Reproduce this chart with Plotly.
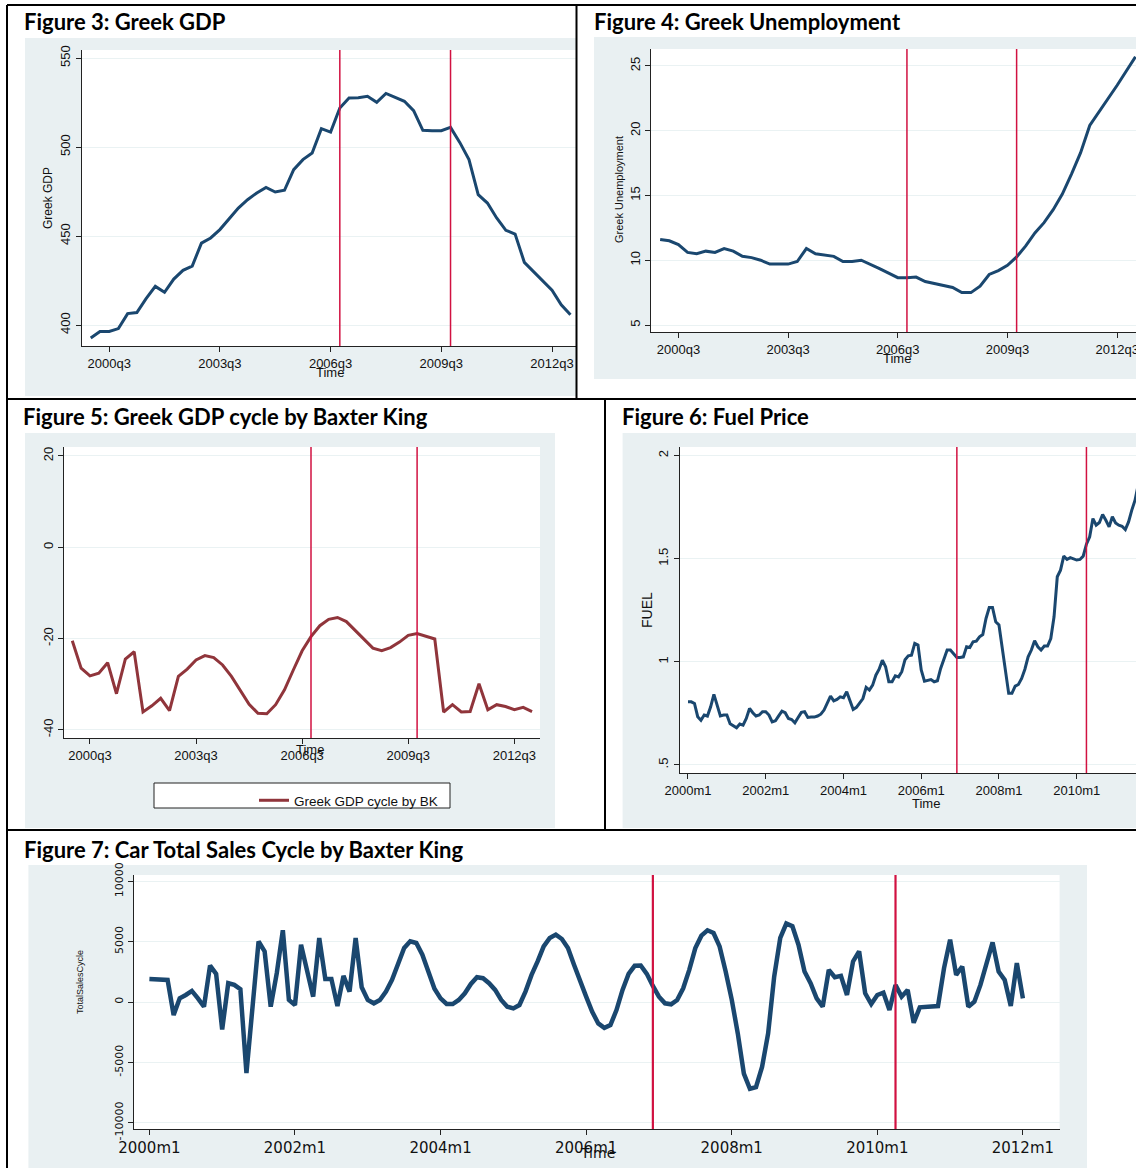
import plotly.graph_objects as go

# ---------------- data ----------------
quarter_ticks = [2, 14, 26, 38, 50]
quarter_ticklabels = ["2000q3", "2003q3", "2006q3", "2009q3", "2012q3"]
month_ticks = [0, 24, 48, 72, 96, 120, 144]
month_ticklabels = ["2000m1", "2002m1", "2004m1", "2006m1", "2008m1", "2010m1", "2012m1"]

events_q = [27, 39]      # 2006q4, 2009q4
events_m = [83, 123]     # 2006m12, 2010m4

gdp = [392.7, 396.3, 396.4, 398.0, 406.4, 407.0, 414.8, 421.7, 418.4, 425.8,
       430.7, 433.1, 446.0, 448.9, 453.6, 459.6, 465.7, 470.4, 474.2, 477.3,
       474.7, 475.7, 487.3, 492.9, 496.6, 510.3, 508.4, 521.9, 527.5, 527.7,
       528.5, 525.1, 530.1, 527.9, 525.7, 520.4, 509.4, 509.2, 509.2, 511.0,
       502.6, 492.9, 473.2, 468.5, 460.1, 453.2, 451.1, 435.2, 430.1, 424.5,
       419.5, 411.4, 405.8]

unemp = [11.6, 11.5, 11.2, 10.6, 10.5, 10.7, 10.6, 10.9, 10.7, 10.3,
         10.2, 10.0, 9.7, 9.7, 9.7, 9.9, 10.9, 10.5, 10.4, 10.3,
         9.9, 9.9, 10.0, 9.7, 9.35, 9.0, 8.65, 8.65, 8.7, 8.35,
         8.2, 8.05, 7.9, 7.5, 7.5, 8.0, 8.9, 9.2, 9.6, 10.25,
         11.1, 12.1, 12.9, 13.9, 15.1, 16.65, 18.3, 20.4, 21.4, 22.45,
         23.5, 24.6, 25.7]

bk_cycle = [-20.5, -26.5, -28.2, -27.6, -25.3, -32.1, -24.5, -22.9, -36.1, -34.75,
            -33.1, -35.8, -28.3, -26.7, -24.7, -23.75, -24.2, -25.8, -28.3, -31.5,
            -34.4, -36.4, -36.5, -34.5, -31.25, -26.9, -22.7, -19.6, -17.2, -15.8,
            -15.4, -16.3, -18.3, -20.2, -22.1, -22.65, -22.0, -20.8, -19.3, -18.9,
            -19.45, -20.1, -36.1, -34.5, -36.1, -36.0, -29.9, -35.6, -34.5, -34.9,
            -35.6, -35.1, -36.0]

fuel = [0.806, 0.806, 0.798, 0.734, 0.717, 0.742, 0.737, 0.782, 0.842, 0.790,
        0.738, 0.742, 0.742, 0.700, 0.688, 0.680, 0.698, 0.693, 0.725, 0.774,
        0.753, 0.737, 0.742, 0.758, 0.758, 0.742, 0.709, 0.714, 0.738, 0.761,
        0.753, 0.725, 0.720, 0.704, 0.730, 0.755, 0.758, 0.730, 0.732, 0.732,
        0.737, 0.746, 0.766, 0.798, 0.834, 0.811, 0.818, 0.830, 0.826, 0.855,
        0.814, 0.769, 0.779, 0.803, 0.822, 0.876, 0.863, 0.887, 0.935, 0.964,
        1.008, 0.976, 0.903, 0.903, 0.932, 0.927, 0.952, 1.010, 1.029, 1.032,
        1.089, 1.081, 0.960, 0.906, 0.911, 0.914, 0.903, 0.908, 0.968, 1.016,
        1.057, 1.057, 1.040, 1.021, 1.021, 1.024, 1.073, 1.069, 1.097, 1.100,
        1.121, 1.132, 1.210, 1.263, 1.263, 1.194, 1.178, 1.073, 0.960, 0.847,
        0.847, 0.882, 0.890, 0.919, 0.964, 1.024, 1.057, 1.102, 1.073, 1.057,
        1.076, 1.076, 1.113, 1.218, 1.412, 1.444, 1.512, 1.496, 1.505, 1.499,
        1.493, 1.496, 1.512, 1.570, 1.606, 1.694, 1.662, 1.675, 1.714, 1.686,
        1.654, 1.703, 1.673, 1.662, 1.657, 1.641, 1.678, 1.735, 1.783, 1.860]

car_cycle = [1917, 1917, 1917, 1833, -1083, 306, 583, 917, 306, -389,
             3028, 2333, -2278, 1556, 1417, 1056, -5889, -300, 5028, 4194,
             -389, 2389, 5944, 167, -250, 4750, 2528, 444, 5306, 1917,
             1917, -333, 2167, 861, 5306, 1222, 167, -111, 167, 861,
             1833, 3222, 4472, 5028, 4889, 3917, 2500, 1100, 300, -167,
             -167, 167, 722, 1500, 2056, 1972, 1556, 1000, 167, -389,
             -528, -250, 861, 2250, 3361, 4611, 5306, 5583, 5222, 4472,
             3083, 1694, 444, -806, -1778, -2139, -1917, -667, 1000, 2333,
             3000, 3028, 2333, 1333, 444, -111, -194, 167, 1139, 2667,
             4472, 5500, 5944, 5722, 4611, 2528, 200, -2611, -5944, -7194,
             -7056, -5389, -2611, 2111, 5306, 6500, 6278, 4750, 2528, 1556,
             306, -389, 2667, 2056, 2167, 583, 3361, 4194, 722, -167,
             583, 778, -667, 1417, 444, 1000, -1722, -444, -389, -389,
             -333, 2806, 5167, 2250, 2944, -389, 28, 1417, 3083, 4944,
             2528, 1833, -333, 3222, 306]

# ---------------- layout helpers ----------------
W, H = 1136, 1168
def fx(px):
    return px / W
def fy(py):
    return 1 - py / H

NAVY = "#1a476f"
MAROON = "#90353b"
RED = "#d11141"
PANEL_BG = "#e9f0f2"
GRID = "#eaf2f3"
TICKFONT = dict(family="Liberation Sans, Arial", size=13, color="#111")

fig = go.Figure()

panels = {
    1: dict(plot=(81.5, 50, 576, 346), bg=(25, 38, 576, 396)),
    2: dict(plot=(651, 49, 1136, 332), bg=(594, 37, 1136, 379)),
    3: dict(plot=(63.7, 447, 540, 738), bg=(25, 433, 555, 828)),
    4: dict(plot=(679.5, 447, 1136, 773), bg=(622.6, 433, 1136, 828)),
    5: dict(plot=(133.8, 875, 1059.6, 1129), bg=(28.4, 865, 1087, 1168)),
}

shapes = []
for k, p in panels.items():
    x0, y0, x1, y1 = p["bg"]
    shapes.append(dict(type="rect", xref="paper", yref="paper", x0=fx(x0), x1=fx(x1),
                       y0=fy(y1), y1=fy(y0), fillcolor=PANEL_BG, line=dict(width=0), layer="below"))
    x0, y0, x1, y1 = p["plot"]
    shapes.append(dict(type="rect", xref="paper", yref="paper", x0=fx(x0), x1=fx(x1),
                       y0=fy(y1), y1=fy(y0), fillcolor="white", line=dict(width=0), layer="below"))

# legend box for figure 5
shapes.append(dict(type="rect", xref="paper", yref="paper", x0=fx(154), x1=fx(450), y0=fy(808), y1=fy(783),
                   fillcolor="white", line=dict(color="#222", width=1), layer="below"))

# traces
fig.add_trace(go.Scatter(x=list(range(len(gdp))), y=gdp, mode="lines", line=dict(color=NAVY, width=3),
                         xaxis="x", yaxis="y", showlegend=False))
fig.add_trace(go.Scatter(x=list(range(len(unemp))), y=unemp, mode="lines", line=dict(color=NAVY, width=3),
                         xaxis="x2", yaxis="y2", showlegend=False))
fig.add_trace(go.Scatter(x=list(range(len(bk_cycle))), y=bk_cycle, mode="lines",
                         line=dict(color=MAROON, width=3), name="Greek GDP cycle by BK",
                         xaxis="x3", yaxis="y3", showlegend=True))
fig.add_trace(go.Scatter(x=list(range(len(fuel))), y=fuel, mode="lines", line=dict(color=NAVY, width=3),
                         xaxis="x4", yaxis="y4", showlegend=False))
fig.add_trace(go.Scatter(x=list(range(len(car_cycle))), y=car_cycle, mode="lines", line=dict(color=NAVY, width=4.5),
                         xaxis="x5", yaxis="y5", showlegend=False))

# red event lines
for k, ev, w in [(1, events_q, 1.5), (2, events_q, 1.5), (3, events_q, 1.5), (4, events_m, 1.5), (5, events_m, 2.2)]:
    xr = "x" if k == 1 else f"x{k}"
    yr = "y domain" if k == 1 else f"y{k} domain"
    for e in ev:
        shapes.append(dict(type="line", xref=xr, yref=yr, x0=e, x1=e, y0=0, y1=1,
                           line=dict(color=RED, width=w), layer="above"))

# panel borders
border = dict(color="black", width=2)
for (a, b, c, d) in [(7, 5, 1136, 5), (7, 5, 7, 1168), (576.5, 5, 576.5, 399), (7, 399, 1136, 399),
                     (605, 399, 605, 830), (7, 830, 1136, 830)]:
    shapes.append(dict(type="line", xref="paper", yref="paper", x0=fx(a), x1=fx(c), y0=fy(b), y1=fy(d),
                       line=border, layer="above"))

def xaxis_cfg(k, rng, tickvals, ticktext, font=TICKFONT):
    x0, y0, x1, y1 = panels[k]["plot"]
    return dict(domain=[fx(x0), min(1.0, fx(x1))], range=rng, tickvals=tickvals, ticktext=ticktext,
                showline=True, linecolor="#222", linewidth=1, ticks="outside", ticklen=5,
                tickcolor="#222", showgrid=False, zeroline=False, tickfont=font, automargin=False,
                ticklabeloverflow="allow", anchor="y" if k == 1 else f"y{k}", fixedrange=True)

def yaxis_cfg(k, rng, tickvals, ticktext, font=TICKFONT):
    x0, y0, x1, y1 = panels[k]["plot"]
    return dict(domain=[fy(y1), fy(y0)], range=rng, tickvals=tickvals, ticktext=ticktext,
                showline=True, linecolor="#222", linewidth=1, ticks="outside", ticklen=5,
                tickcolor="#222", showgrid=True, gridcolor=GRID, gridwidth=1, zeroline=False,
                tickangle=-90, tickfont=font, automargin=False,
                anchor="x" if k == 1 else f"x{k}", fixedrange=True)

wide_font = dict(family="DejaVu Sans", size=15, color="#111")

layout_axes = dict(
    xaxis=xaxis_cfg(1, [-1.0, 52.6], quarter_ticks, quarter_ticklabels),
    yaxis=yaxis_cfg(1, [388.2, 554.5], [400, 450, 500, 550], ["400", "450", "500", "550"]),
    xaxis2=xaxis_cfg(2, [-1.0, 52.06], quarter_ticks, quarter_ticklabels),
    yaxis2=yaxis_cfg(2, [4.46, 26.3], [5, 10, 15, 20, 25], ["5", "10", "15", "20", "25"]),
    xaxis3=xaxis_cfg(3, [-0.97, 52.9], quarter_ticks, quarter_ticklabels),
    yaxis3=yaxis_cfg(3, [-41.8, 21.95], [-40, -20, 0, 20], ["-40", "-20", "0", "20"]),
    xaxis4=xaxis_cfg(4, [-2.62, 138.3], month_ticks[:6], month_ticklabels[:6]),
    yaxis4=yaxis_cfg(4, [0.461, 2.041], [0.5, 1, 1.5, 2], [".5", "1", "1.5", "2"]),
    xaxis5=xaxis_cfg(5, [-2.57, 150.05], month_ticks, month_ticklabels, font=wide_font),
    yaxis5=yaxis_cfg(5, [-10528, 10528], [-10000, -5000, 0, 5000, 10000],
                     ["-10000", "-5000", "0", "5000", "10000"], font=dict(family="DejaVu Sans", size=11, color="#111")),
)

annotations = []
title_font = dict(family="Lato, Open Sans", size=22, color="black")
for text, x, y in [("Figure 3: Greek GDP", 22, 21), ("Figure 4: Greek Unemployment", 592, 21),
                   ("Figure 5: Greek GDP cycle by Baxter King", 21, 416), ("Figure 6: Fuel Price", 620, 416),
                   ("Figure 7: Car Total Sales Cycle by Baxter King", 22, 849)]:
    annotations.append(dict(text=f"<b>{text}</b>", x=fx(x), y=fy(y), xref="paper", yref="paper",
                            xanchor="left", yanchor="middle", showarrow=False, font=title_font))

lab_font = dict(family="Liberation Sans, Arial", size=13, color="#111")
for x, y in [(330, 372), (897, 359), (310, 749), (926, 803)]:
    annotations.append(dict(text="Time", x=fx(x), y=fy(y), xref="paper", yref="paper",
                            xanchor="center", yanchor="middle", showarrow=False, font=lab_font))
annotations.append(dict(text="Time", x=fx(597), y=fy(1153), xref="paper", yref="paper",
                        xanchor="center", yanchor="middle", showarrow=False,
                        font=dict(family="DejaVu Sans", size=14, color="#111")))

for text, x, y, size in [("Greek GDP", 48, 198, 12), ("Greek Unemployment", 619, 190, 11),
                         ("FUEL", 647, 610, 14), ("TotalSalesCycle", 80, 982, 9)]:
    annotations.append(dict(text=text, x=fx(x), y=fy(y), xref="paper", yref="paper", textangle=-90,
                            xanchor="center", yanchor="middle", showarrow=False,
                            font=dict(family="Liberation Sans, Arial", size=size, color="#111")))

fig.update_layout(
    width=W, height=H, margin=dict(l=0, r=0, t=0, b=0, autoexpand=False),
    paper_bgcolor="white", plot_bgcolor="white",
    shapes=shapes, annotations=annotations,
    legend=dict(x=fx(254), y=fy(785), xanchor="left", yanchor="top", bgcolor="rgba(0,0,0,0)",
                borderwidth=0, font=dict(family="Liberation Sans, Arial", size=13.5, color="#111")),
    **layout_axes,
)

fig.write_html("out.html", config={"displayModeBar": False},
               post_script="document.body.style.margin='0';document.body.style.overflow='hidden';")
